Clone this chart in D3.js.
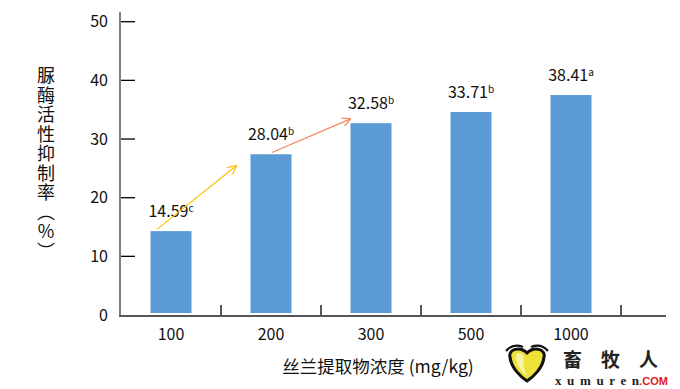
<!DOCTYPE html>
<html>
	<head>
		<meta charset="utf-8">
		<style type="text/css">
			body { margin: 0; background: #fff; }
			svg { display: block; font-family: "Noto Sans CJK SC", "Noto Sans", sans-serif; }
		</style>
		<title>脲酶活性抑制率</title>
	</head>
	<body>
		<script src="https://cdn.jsdelivr.net/npm/d3@7/dist/d3.min.js"></script>
		<script>

// DATA
var doses = ["100", "200", "300", "500", "1000"];
var barValues = [14.3, 27.4, 32.7, 34.6, 37.5];
var labelValues = ["14.59", "28.04", "32.58", "33.71", "38.41"];
var labelLetters = ["c", "b", "b", "b", "a"];
var yTicks = [0, 10, 20, 30, 40, 50];
// arrows: [category position, value] start and end
var arrowFrom = [[-0.14, 14.6], [1.01, 27.7]];
var arrowTo = [[0.65, 25.4], [1.79, 33.4]];
var arrowColors = ["#FFC000", "#F4895A"];

var width = 680,
	height = 389;

var svg = d3.select("body").append("svg")
	.attr("width", width)
	.attr("height", height);

var x = d3.scaleBand()
	.domain(doses)
	.range([121, 621])
	.paddingInner(0.59)
	.paddingOuter(0.295);

var y = d3.scaleLinear()
	.domain([0, 50])
	.range([315, 21.7]);

// position along x in category units (0 = centre of first band)
function xPos(c) {
	return x(doses[0]) + x.bandwidth() / 2 + c * x.step();
}

//BARS
svg.selectAll(".bar")
	.data(barValues)
	.enter()
	.append("rect")
	.attr("class", "bar")
	.attr("x", function(d, i) { return x(doses[i]); })
	.attr("y", function(d) { return y(d); })
	.attr("width", x.bandwidth())
	.attr("height", function(d) { return y(0) - y(d) - 2; })
	.attr("fill", "#5B9BD5");

//LABELS
var labels = svg.selectAll(".label")
	.data(barValues)
	.enter()
	.append("text")
	.attr("class", "label")
	.attr("x", function(d, i) { return x(doses[i]) + x.bandwidth() / 2; })
	.attr("y", function(d) { return y(d) - 14; })
	.attr("text-anchor", "middle")
	.attr("fill", "#111")
	.style("font-size", "16px");

labels.append("tspan")
	.text(function(d, i) { return labelValues[i]; });

labels.append("tspan")
	.attr("dy", -5)
	.style("font-size", "10px")
	.text(function(d, i) { return labelLetters[i]; });

//ARROWS
var defs = svg.append("defs");
arrowColors.forEach(function(c, i) {
	defs.append("marker")
		.attr("id", "arrow" + i)
		.attr("viewBox", "0 0 10 10")
		.attr("refX", 9)
		.attr("refY", 5)
		.attr("markerWidth", 9)
		.attr("markerHeight", 9)
		.attr("markerUnits", "userSpaceOnUse")
		.attr("orient", "auto")
		.append("path")
		.attr("d", "M 0,0 L 10,5 L 0,10")
		.attr("fill", "none")
		.attr("stroke", c)
		.attr("stroke-width", 1.4);
});

svg.selectAll(".arrow")
	.data(arrowFrom)
	.enter()
	.append("line")
	.attr("class", "arrow")
	.attr("x1", function(d) { return xPos(d[0]); })
	.attr("y1", function(d) { return y(d[1]); })
	.attr("x2", function(d, i) { return xPos(arrowTo[i][0]); })
	.attr("y2", function(d, i) { return y(arrowTo[i][1]); })
	.attr("stroke", function(d, i) { return arrowColors[i]; })
	.attr("stroke-width", 1.2)
	.attr("marker-end", function(d, i) { return "url(#arrow" + i + ")"; });

//AXIS
svg.append("line")
	.attr("x1", 120).attr("x2", 120)
	.attr("y1", 12).attr("y2", y(0) + 1)
	.attr("stroke", "#808080")
	.attr("stroke-width", 2);

svg.selectAll(".ytick")
	.data(yTicks.slice(1))
	.enter()
	.append("line")
	.attr("class", "ytick")
	.attr("x1", 121).attr("x2", 135)
	.attr("y1", function(d) { return y(d); })
	.attr("y2", function(d) { return y(d); })
	.attr("stroke", "#000")
	.attr("stroke-width", 1.3);

svg.selectAll(".ylabel")
	.data(yTicks)
	.enter()
	.append("text")
	.attr("class", "ylabel")
	.attr("x", 108)
	.attr("y", function(d) { return y(d); })
	.attr("dy", "0.36em")
	.attr("text-anchor", "end")
	.attr("fill", "#111")
	.style("font-size", "16px")
	.text(function(d) { return d; });

svg.append("line")
	.attr("x1", 119).attr("x2", 666)
	.attr("y1", y(0) + 1).attr("y2", y(0) + 1)
	.attr("stroke", "#555")
	.attr("stroke-width", 1.8);

svg.selectAll(".xtick")
	.data(doses)
	.enter()
	.append("line")
	.attr("class", "xtick")
	.attr("x1", function(d) { return x(d) + x.bandwidth() + (x.step() - x.bandwidth()) / 2; })
	.attr("x2", function(d) { return x(d) + x.bandwidth() + (x.step() - x.bandwidth()) / 2; })
	.attr("y1", y(0) - 10)
	.attr("y2", y(0))
	.attr("stroke", "#000")
	.attr("stroke-width", 1.3);

svg.selectAll(".xlabel")
	.data(doses)
	.enter()
	.append("text")
	.attr("class", "xlabel")
	.attr("x", function(d) { return x(d) + x.bandwidth() / 2; })
	.attr("y", 340)
	.attr("text-anchor", "middle")
	.attr("fill", "#111")
	.style("font-size", "16px")
	.text(function(d) { return d; });

// AXIS TITLES
svg.append("text")
	.attr("x", 46)
	.attr("y", 164)
	.attr("text-anchor", "middle")
	.attr("fill", "#111")
	.style("writing-mode", "vertical-rl")
	.style("text-orientation", "upright")
	.style("font-size", "18px")
	.style("letter-spacing", "1.5px")
	.text("脲酶活性抑制率（%）");

svg.append("text")
	.attr("x", 378)
	.attr("y", 373)
	.attr("text-anchor", "middle")
	.attr("fill", "#111")
	.style("font-size", "17.5px")
	.text("丝兰提取物浓度 (mg/kg)");

// LOGO
var logo = svg.append("g").attr("class", "logo");

logo.append("path")
	.attr("d", "M 510,357 C 508,349 520,346 527,353 C 534,346 546,349 544,357 C 543,368 533,377 527,381 C 521,377 511,368 510,357 Z")
	.attr("fill", "#EDE23A")
	.attr("stroke", "#111")
	.attr("stroke-width", 3);

logo.append("path")
	.attr("d", "M 516,356 C 516,352 521,352 524,356 C 523,364 524,371 527,376 C 520,371 516,363 516,356 Z")
	.attr("fill", "#F7F3A0");

logo.append("path")
	.attr("d", "M 506,351 Q 513,343 523,347 M 531,347 Q 541,343 548,351")
	.attr("fill", "none")
	.attr("stroke", "#111")
	.attr("stroke-width", 2.2);

logo.append("text")
	.attr("x", 563)
	.attr("y", 367)
	.attr("fill", "#222")
	.style("font-size", "19px")
	.style("font-weight", "bold")
	.style("letter-spacing", "19px")
	.text("畜牧人");

logo.append("text")
	.attr("x", 555)
	.attr("y", 385)
	.attr("fill", "#222")
	.style("font-family", "'Liberation Serif', serif")
	.style("font-size", "13px")
	.style("font-weight", "bold")
	.attr("textLength", 84)
	.text("xumuren");

logo.append("text")
	.attr("x", 639)
	.attr("y", 385)
	.attr("fill", "#E02020")
	.style("font-family", "'Liberation Sans', sans-serif")
	.style("font-size", "11px")
	.style("font-weight", "bold")
	.attr("textLength", 29)
	.text(".COM");

		</script>
	</body>
</html>
